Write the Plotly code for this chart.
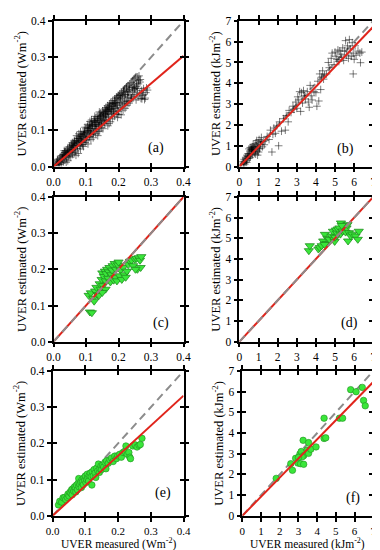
import plotly.graph_objects as go

W, H = 380, 550

# ---------------- data ----------------
a_meas = [
    0.004, 0.007, 0.009, 0.011, 0.013, 0.015, 0.016, 0.018, 0.020, 0.022,
    0.023, 0.025, 0.026, 0.028, 0.029, 0.031, 0.032, 0.034, 0.035, 0.037,
    0.038, 0.040, 0.041, 0.043, 0.044, 0.046, 0.047, 0.049, 0.050, 0.052,
    0.053, 0.055, 0.056, 0.058, 0.059, 0.061, 0.062, 0.064, 0.065, 0.067,
    0.068, 0.070, 0.071, 0.073, 0.074, 0.076, 0.077, 0.079, 0.080, 0.082,
    0.083, 0.085, 0.086, 0.088, 0.089, 0.091, 0.092, 0.094, 0.095, 0.097,
    0.098, 0.100, 0.101, 0.103, 0.104, 0.106, 0.107, 0.109, 0.110, 0.112,
    0.113, 0.115, 0.116, 0.118, 0.119, 0.121, 0.122, 0.124, 0.125, 0.127,
    0.128, 0.130, 0.131, 0.133, 0.134, 0.136, 0.137, 0.139, 0.140, 0.142,
    0.143, 0.145, 0.146, 0.148, 0.149, 0.151, 0.152, 0.154, 0.155, 0.157,
    0.158, 0.160, 0.161, 0.163, 0.164, 0.166, 0.167, 0.169, 0.170, 0.172,
    0.173, 0.175, 0.176, 0.178, 0.179, 0.181, 0.182, 0.184, 0.185, 0.187,
    0.188, 0.190, 0.191, 0.193, 0.194, 0.196, 0.197, 0.199, 0.200, 0.202,
    0.203, 0.205, 0.206, 0.208, 0.209, 0.211, 0.212, 0.214, 0.215, 0.217,
    0.218, 0.220, 0.221, 0.223, 0.224, 0.226, 0.227, 0.229, 0.230, 0.232,
    0.233, 0.235, 0.236, 0.238, 0.239, 0.241, 0.242, 0.244, 0.245, 0.247,
    0.248, 0.250, 0.251, 0.253, 0.254, 0.256, 0.257, 0.259, 0.260, 0.262,
    0.263, 0.265, 0.267, 0.269, 0.271, 0.274, 0.277, 0.280, 0.284, 0.289,
    0.030, 0.045, 0.060, 0.072, 0.085, 0.096, 0.108, 0.118, 0.126, 0.135,
    0.144, 0.153, 0.162, 0.171, 0.180, 0.189, 0.198, 0.207, 0.216, 0.225,
    0.115, 0.128, 0.141, 0.156, 0.168, 0.183, 0.196, 0.211, 0.226, 0.240,
    0.050, 0.066, 0.081, 0.093, 0.105, 0.120, 0.137, 0.150, 0.165, 0.178,
    0.012, 0.019, 0.027, 0.033, 0.039, 0.048, 0.054, 0.063, 0.069, 0.078,
    0.084, 0.090, 0.099, 0.105, 0.111, 0.117, 0.123, 0.129, 0.138, 0.141,
    0.147, 0.153, 0.159, 0.166, 0.171, 0.177, 0.186, 0.192, 0.201, 0.207,
    0.213, 0.219, 0.228, 0.234, 0.243, 0.249, 0.255, 0.261, 0.266, 0.272,
    0.036, 0.057, 0.074, 0.087, 0.101, 0.114, 0.132, 0.147, 0.161, 0.174,
    0.186, 0.195, 0.204, 0.219, 0.231, 0.247, 0.258, 0.278, 0.286, 0.282,
    0.026, 0.042, 0.058, 0.077, 0.094, 0.111, 0.128, 0.145, 0.160, 0.182,
    0.064, 0.071, 0.083, 0.097, 0.112, 0.127, 0.141, 0.156, 0.170, 0.187,
]
a_est = [
    0.006, 0.003, 0.012, 0.008, 0.017, 0.005, 0.014, 0.021, 0.011, 0.026,
    0.016, 0.009, 0.029, 0.021, 0.034, 0.013, 0.027, 0.039, 0.019, 0.031,
    0.044, 0.024, 0.036, 0.049, 0.016, 0.041, 0.030, 0.055, 0.037, 0.046,
    0.026, 0.058, 0.040, 0.051, 0.033, 0.064, 0.047, 0.038, 0.069, 0.055,
    0.043, 0.072, 0.061, 0.050, 0.077, 0.036, 0.066, 0.083, 0.057, 0.074,
    0.048, 0.088, 0.069, 0.060, 0.082, 0.092, 0.055, 0.076, 0.097, 0.066,
    0.086, 0.104, 0.071, 0.093, 0.108, 0.062, 0.099, 0.082, 0.112, 0.090,
    0.117, 0.074, 0.103, 0.122, 0.088, 0.110, 0.079, 0.126, 0.097, 0.115,
    0.132, 0.090, 0.121, 0.103, 0.137, 0.085, 0.127, 0.110, 0.142, 0.098,
    0.133, 0.147, 0.113, 0.140, 0.121, 0.153, 0.104, 0.144, 0.128, 0.158,
    0.117, 0.150, 0.162, 0.126, 0.146, 0.167, 0.112, 0.155, 0.134, 0.171,
    0.160, 0.123, 0.176, 0.143, 0.166, 0.131, 0.181, 0.150, 0.172, 0.138,
    0.186, 0.160, 0.176, 0.145, 0.191, 0.168, 0.135, 0.195, 0.152, 0.183,
    0.199, 0.162, 0.189, 0.142, 0.204, 0.172, 0.194, 0.155, 0.209, 0.178,
    0.213, 0.160, 0.198, 0.182, 0.218, 0.168, 0.206, 0.189, 0.222, 0.174,
    0.210, 0.227, 0.180, 0.196, 0.231, 0.186, 0.217, 0.235, 0.192, 0.224,
    0.240, 0.198, 0.214, 0.243, 0.183, 0.229, 0.204, 0.246, 0.191, 0.236,
    0.249, 0.201, 0.239, 0.187, 0.209, 0.195, 0.214, 0.184, 0.203, 0.210,
    0.033, 0.046, 0.058, 0.070, 0.081, 0.094, 0.104, 0.114, 0.124, 0.130,
    0.138, 0.149, 0.156, 0.163, 0.173, 0.180, 0.188, 0.196, 0.205, 0.213,
    0.095, 0.105, 0.116, 0.124, 0.137, 0.146, 0.158, 0.166, 0.178, 0.188,
    0.052, 0.064, 0.077, 0.087, 0.097, 0.112, 0.120, 0.134, 0.152, 0.158,
    0.020, 0.006, 0.024, 0.044, 0.012, 0.028, 0.061, 0.052, 0.031, 0.090,
    0.071, 0.060, 0.075, 0.115, 0.083, 0.128, 0.092, 0.111, 0.096, 0.150,
    0.107, 0.137, 0.128, 0.152, 0.118, 0.150, 0.164, 0.170, 0.143, 0.186,
    0.200, 0.172, 0.197, 0.219, 0.208, 0.216, 0.220, 0.227, 0.232, 0.186,
    0.040, 0.045, 0.058, 0.066, 0.080, 0.099, 0.115, 0.118, 0.143, 0.156,
    0.153, 0.174, 0.176, 0.193, 0.204, 0.212, 0.215, 0.198, 0.216, 0.188,
    0.030, 0.040, 0.066, 0.078, 0.090, 0.106, 0.126, 0.131, 0.140, 0.166,
    0.072, 0.085, 0.096, 0.108, 0.124, 0.138, 0.125, 0.145, 0.158, 0.174,
]

b_meas = [
    0.12, 0.18, 0.22, 0.25, 0.30, 0.33, 0.36, 0.40, 0.42, 0.45,
    0.48, 0.50, 0.52, 0.55, 0.57, 0.60, 0.62, 0.63, 0.65, 0.67,
    0.68, 0.70, 0.72, 0.75, 0.78, 0.80, 0.83, 0.85, 0.88, 0.90,
    0.92, 0.95, 0.98, 1.00, 1.03, 1.06, 1.10, 1.15, 1.20, 1.25,
    1.35, 1.45, 1.55, 1.62, 1.70, 1.75, 1.80, 1.88, 1.95, 2.05,
    2.10, 2.20, 2.30, 2.40, 2.45, 2.55, 2.60,
    2.70, 2.80, 2.85, 2.95, 3.00, 3.05, 3.10, 3.15, 3.20, 3.25,
    3.30, 3.35, 3.40, 3.45, 3.55, 3.60, 3.65, 3.70, 3.75, 3.80,
    3.90, 4.00, 4.05, 4.10, 4.15, 4.20, 4.25, 4.30, 4.35, 4.40, 4.45,
    4.55, 4.65, 4.70, 4.80, 4.85, 4.95, 5.00, 5.05, 5.10, 5.15,
    5.20, 5.25, 5.30, 5.35, 5.40, 5.45, 5.50, 5.55, 5.60, 5.65,
    5.70, 5.75, 5.80, 5.85, 5.90, 5.95, 6.00, 6.05, 6.10, 6.20,
    6.30, 6.40, 5.95, 6.33,
    0.20, 0.28, 0.35, 0.38, 0.44, 0.52, 0.58, 0.64, 0.70, 0.76,
    0.85, 0.95, 1.05, 1.12, 1.30,
]
b_est = [
    0.10, 0.25, 0.15, 0.35, 0.22, 0.45, 0.30, 0.55, 0.38, 0.62,
    0.48, 0.85, 0.40, 0.75, 0.92, 0.55, 0.82, 0.88, 0.70, 0.95,
    0.60, 0.85, 1.05, 0.72, 0.90, 0.65, 1.10, 0.80, 1.00, 1.25,
    0.75, 0.95, 1.15, 0.70, 1.30, 0.88, 1.05, 1.40, 0.95, 1.20,
    1.25, 1.45, 1.30, 1.75, 0.70, 1.55, 1.85, 1.60, 1.95, 1.00,
    2.15, 1.70, 2.30, 1.75, 2.45, 2.15, 2.70,
    2.60, 2.90, 2.75, 3.10, 2.80, 3.35, 3.20, 3.60, 2.65, 3.55,
    3.05, 3.65, 3.40, 3.25, 3.60, 3.10, 2.85, 3.90, 3.40, 3.20,
    3.60, 3.55, 2.90, 4.10, 3.15, 4.45, 3.70, 4.30, 4.60, 4.20, 4.40,
    4.45, 5.00, 4.75, 5.20, 5.45, 4.90, 5.50, 5.30, 5.15, 5.60,
    5.05, 5.55, 5.40, 5.25, 5.70, 5.10, 5.55, 6.05, 5.35, 5.80,
    5.20, 6.10, 5.65, 5.30, 5.95, 5.45, 5.15, 5.80, 5.35, 5.55,
    5.45, 5.50, 4.45, 4.99,
    0.18, 0.12, 0.40, 0.20, 0.50, 0.62, 0.45, 0.80, 0.78, 0.95,
    0.60, 0.55, 0.85, 1.20, 1.05,
]

c_meas = [
    0.112, 0.118, 0.108, 0.115, 0.122, 0.128, 0.125, 0.135, 0.132, 0.140,
    0.142, 0.145, 0.148, 0.150, 0.152, 0.155, 0.158, 0.160, 0.162, 0.165,
    0.168, 0.170, 0.172, 0.175, 0.178, 0.180, 0.182, 0.185, 0.188, 0.190,
    0.192, 0.195, 0.198, 0.200, 0.203, 0.206, 0.210, 0.214, 0.218, 0.222,
    0.226, 0.230, 0.235, 0.240, 0.245, 0.250, 0.255, 0.258, 0.262, 0.266,
    0.270, 0.268, 0.252, 0.160, 0.150,
]
c_est = [
    0.082, 0.080, 0.128, 0.135, 0.120, 0.140, 0.112, 0.130, 0.150, 0.128,
    0.160, 0.145, 0.172, 0.190, 0.155, 0.180, 0.195, 0.168, 0.188, 0.200,
    0.175, 0.193, 0.205, 0.165, 0.185, 0.198, 0.210, 0.170, 0.216, 0.178,
    0.200, 0.168, 0.212, 0.220, 0.182, 0.198, 0.172, 0.205, 0.185, 0.178,
    0.195, 0.213, 0.222, 0.225, 0.210, 0.228, 0.230, 0.200, 0.232, 0.225,
    0.235, 0.205, 0.200, 0.145, 0.136,
]

d_meas = [
    3.63, 3.68, 4.13, 4.20, 4.30, 4.38, 4.47, 4.55, 4.60, 4.70,
    4.81, 4.89, 4.95, 4.98, 5.05, 5.10, 5.15, 5.23, 5.28, 5.31,
    5.40, 5.48, 5.55, 5.60, 5.65, 5.68, 5.73, 5.82, 5.90, 6.07,
    6.19, 6.24, 5.00, 5.35, 4.45,
]
d_est = [
    4.40, 4.64, 4.48, 4.55, 4.64, 4.87, 5.19, 4.75, 5.00, 4.95,
    5.11, 5.34, 4.95, 4.85, 5.40, 5.25, 5.45, 5.50, 5.20, 5.74,
    5.35, 5.58, 5.30, 5.50, 5.66, 4.87, 5.27, 5.11, 5.20, 5.11,
    4.95, 5.34, 5.05, 5.62, 4.70,
]

e_meas = [
    0.018, 0.022, 0.028, 0.032, 0.037, 0.040, 0.045, 0.047, 0.050, 0.053,
    0.056, 0.058, 0.060, 0.062, 0.065, 0.067, 0.070, 0.071, 0.073, 0.076,
    0.078, 0.080, 0.081, 0.083, 0.086, 0.088, 0.090, 0.091, 0.094, 0.096,
    0.098, 0.100, 0.102, 0.104, 0.106, 0.108, 0.110, 0.112, 0.115, 0.118,
    0.120, 0.121, 0.124, 0.127, 0.130, 0.132, 0.135, 0.138, 0.140, 0.143,
    0.145, 0.148, 0.150, 0.153, 0.156, 0.160, 0.163, 0.165, 0.170, 0.175,
    0.180, 0.185, 0.190, 0.195, 0.199, 0.205, 0.210, 0.215, 0.220, 0.224,
    0.228, 0.233, 0.236, 0.238, 0.245, 0.252, 0.258, 0.264, 0.268, 0.273,
]
e_est = [
    0.030, 0.040, 0.038, 0.050, 0.051, 0.045, 0.051, 0.060, 0.055, 0.065,
    0.062, 0.072, 0.058, 0.075, 0.068, 0.080, 0.076, 0.066, 0.085, 0.072,
    0.090, 0.103, 0.080, 0.088, 0.094, 0.078, 0.100, 0.094, 0.086, 0.105,
    0.098, 0.110, 0.092, 0.100, 0.115, 0.104, 0.096, 0.112, 0.118, 0.108,
    0.085, 0.122, 0.110, 0.128, 0.118, 0.106, 0.132, 0.124, 0.143, 0.120,
    0.130, 0.138, 0.128, 0.140, 0.135, 0.148, 0.130, 0.152, 0.145, 0.155,
    0.160, 0.150, 0.165, 0.158, 0.166, 0.170, 0.162, 0.175, 0.178, 0.193,
    0.170, 0.175, 0.162, 0.158, 0.193, 0.196, 0.190, 0.195, 0.197, 0.214,
]

f_meas = [
    1.81, 2.59, 2.68, 2.85, 2.97, 3.08, 3.11, 3.15, 3.25, 3.28,
    3.28, 3.20, 3.46, 3.54, 3.54, 3.66, 3.94, 4.37, 4.37, 4.46,
    5.19, 5.36, 5.79, 6.08, 6.41, 6.48, 6.57, 3.00,
]
f_est = [
    1.81, 2.52, 2.20, 2.78, 2.55, 2.99, 2.52, 3.11, 3.65, 2.91,
    2.49, 2.85, 3.18, 3.54, 3.02, 3.22, 3.33, 4.72, 3.74, 3.77,
    4.72, 4.72, 6.10, 6.00, 6.21, 5.58, 5.32, 2.82,
]

panel_labels = ["(a)", "(b)", "(c)", "(d)", "(e)", "(f)"]
fit_slopes = [0.76, 0.96, 1.0, 1.0, 0.83, 0.925]
one_to_one_end = [0.4, 7, 0.4, 7, 0.4, 7]
w_ticks = [0.0, 0.1, 0.2, 0.3, 0.4]
w_tick_text = ["0.0", "0.1", "0.2", "0.3", "0.4"]
kj_ticks = [0, 1, 2, 3, 4, 5, 6, 7]
kj_tick_text = ["0", "1", "2", "3", "4", "5", "6", "7"]
y_title_w = "UVER estimated (Wm<sup>-2</sup>)"
y_title_kj = "UVER estimated (kJm<sup>-2</sup>)"
x_title_w = "UVER measured (Wm<sup>-2</sup>)"
x_title_kj = "UVER measured (kJm<sup>-2</sup>)"

# ---------------- style / layout ----------------
FONT = "Liberation Serif"
panel_px = [  # left, right, top, bottom (pixels)
    (40, 175, 7, 156), (233, 372, 7, 156),
    (40, 175, 187, 335), (233, 372, 187, 335),
    (39, 175, 365, 513), (236, 372, 365, 513),
]
series = [
    (a_meas, a_est, "plus"), (b_meas, b_est, "plus"),
    (c_meas, c_est, "tri"), (d_meas, d_est, "tri"),
    (e_meas, e_est, "dot"), (f_meas, f_est, "dot"),
]

RED = "#e0241b"
GRAY = "#8c8c8c"
GREEN = "#3ae63a"
DKGREEN = "#1f8f1f"

fig = go.Figure()
layout = {}
annotations = []

for i in range(6):
    n = i + 1
    xid = "x" if n == 1 else f"x{n}"
    yid = "y" if n == 1 else f"y{n}"
    xo, yo = f"x{n + 6}", f"y{n + 6}"
    l, r, t, b = panel_px[i]
    xd = [l / W, r / W]
    yd = [1 - b / H, 1 - t / H]
    is_w = (i % 2 == 0)
    rng = [0, 0.4] if is_w else [0, 7]
    tv = w_ticks if is_w else kj_ticks
    tt = w_tick_text if is_w else kj_tick_text
    xs, ys, kind = series[i]
    end = one_to_one_end[i]
    line_x = [0, end]
    fit_y = [fit_slopes[i] * v for v in line_x]

    dashed = go.Scatter(x=line_x, y=line_x, mode="lines", xaxis=xid, yaxis=yid,
                        line=dict(color=GRAY, width=2, dash="8px,5px"),
                        showlegend=False, hoverinfo="skip")
    red = go.Scatter(x=line_x, y=fit_y, mode="lines", xaxis=xid, yaxis=yid,
                     line=dict(color=RED, width=2), showlegend=False, hoverinfo="skip")
    if kind == "plus":
        mk = dict(symbol="cross-thin-open", size=5.5, color="rgba(0,0,0,0.5)",
                  line=dict(width=1, color="rgba(0,0,0,0.5)"))
    elif kind == "tri":
        mk = dict(symbol="triangle-down", size=8, color=GREEN,
                  line=dict(width=0.8, color=DKGREEN))
    else:
        mk = dict(symbol="circle", size=6.5, color=GREEN,
                  line=dict(width=0.6, color=DKGREEN))
    pts = go.Scatter(x=xs, y=ys, mode="markers", xaxis=xid, yaxis=yid, marker=mk,
                     showlegend=False, hoverinfo="skip")
    if kind == "tri":
        fig.add_traces([pts, red, dashed])
    else:
        fig.add_traces([dashed, pts, red])
    # dummy trace for the overlay axes (inner ticks)
    fig.add_trace(go.Scatter(x=[None], y=[None], xaxis=xo, yaxis=yo,
                             showlegend=False, hoverinfo="skip"))

    x_tick_size = 11 if i >= 4 else 11.5
    common = dict(range=rng, tickvals=tv, ticktext=tt, showgrid=False, zeroline=False,
                  ticklen=4, tickwidth=1.5, tickcolor="black", fixedrange=True)
    xa = dict(common, domain=xd, anchor=yid, showline=True, linecolor="black",
              linewidth=1.5, ticks="outside", mirror="ticks",
              tickfont=dict(family=FONT, size=x_tick_size, color="black"))
    ya = dict(common, domain=yd, anchor=xid, showline=True, linecolor="black",
              linewidth=1.5, ticks="outside", mirror="ticks",
              tickfont=dict(family=FONT, size=11.5, color="black"),
              title=dict(text=y_title_w if is_w else y_title_kj,
                         font=dict(family=FONT, size=12.5, color="black"),
                         standoff=2))
    xov = dict(common, overlaying=xid, anchor=yid, ticks="inside", mirror="ticks",
               showticklabels=False, showline=False)
    yov = dict(common, overlaying=yid, anchor=xid, ticks="inside", mirror="ticks",
               showticklabels=False, showline=False)
    layout["xaxis" if n == 1 else f"xaxis{n}"] = xa
    layout["yaxis" if n == 1 else f"yaxis{n}"] = ya
    layout[f"xaxis{n + 6}"] = xov
    layout[f"yaxis{n + 6}"] = yov

    if i >= 4:  # x-axis titles on the bottom row
        annotations.append(dict(text=x_title_w if is_w else x_title_kj,
                                xref=f"{xid} domain", yref="paper",
                                x=0.5, y=1 - 541 / H, showarrow=False,
                                xanchor="center", yanchor="middle",
                                font=dict(family=FONT, size=11.5, color="black")))

label_pos = [(0.79, 0.13), (0.79, 0.12), (0.83, 0.13), (0.82, 0.13), (0.84, 0.155), (0.845, 0.12)]
for i in range(6):
    n = i + 1
    xid = "x" if n == 1 else f"x{n}"
    yid = "y" if n == 1 else f"y{n}"
    annotations.append(dict(text=panel_labels[i], xref=f"{xid} domain", yref=f"{yid} domain",
                            x=label_pos[i][0], y=label_pos[i][1], showarrow=False,
                            xanchor="center", yanchor="middle",
                            font=dict(family=FONT, size=14, color="black")))

fig.update_layout(width=W, height=H, autosize=False,
                  margin=dict(l=0, r=0, t=0, b=0),
                  paper_bgcolor="white", plot_bgcolor="white",
                  annotations=annotations, **layout)

fig.write_html("out.html")
